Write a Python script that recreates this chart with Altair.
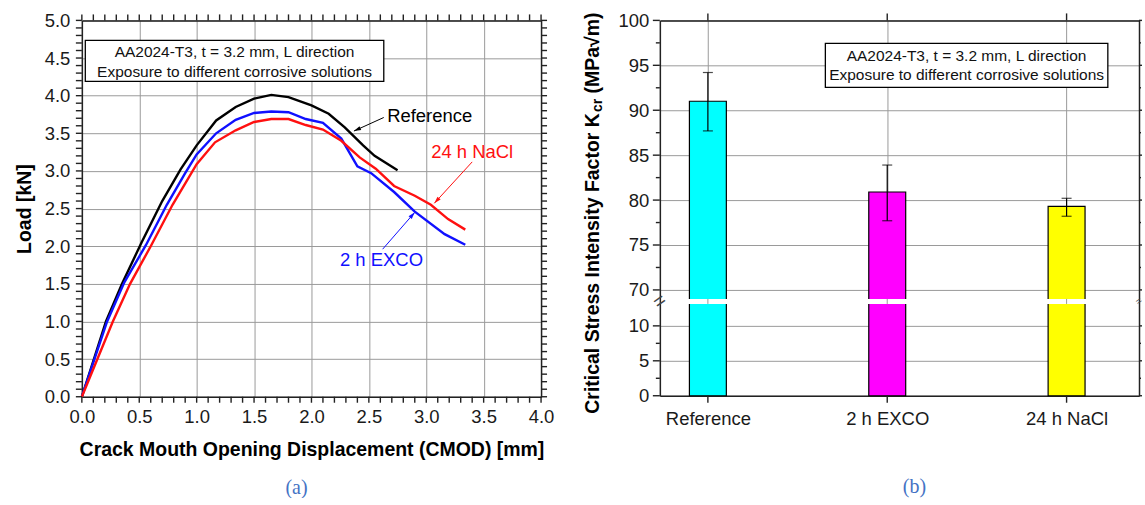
import json
import math
import altair as alt
import pandas as pd

FONT = "Liberation Sans"
SERIF = "Liberation Serif"

# ---------------- (a) load vs CMOD curves ----------------
series_names = ["Reference", "2 h EXCO", "24 h NaCl"]
series_colors = ["#000000", "#1010ff", "#ff1010"]

ref_x = [0, 0.21, 0.35, 0.52, 0.70, 0.86, 1.00, 1.17, 1.34, 1.50, 1.65, 1.80, 2.00, 2.15, 2.29, 2.45, 2.55, 2.75]
ref_y = [0, 1.00, 1.50, 2.05, 2.60, 3.02, 3.34, 3.67, 3.85, 3.96, 4.01, 3.98, 3.87, 3.76, 3.58, 3.34, 3.20, 3.01]
exco_x = [0, 0.22, 0.37, 0.56, 0.74, 0.90, 1.00, 1.17, 1.34, 1.50, 1.65, 1.80, 1.95, 2.10, 2.26, 2.40, 2.52, 2.72, 2.90, 3.16, 3.34]
exco_y = [0, 1.00, 1.52, 2.02, 2.55, 2.97, 3.22, 3.50, 3.68, 3.77, 3.79, 3.78, 3.69, 3.64, 3.43, 3.06, 2.97, 2.72, 2.46, 2.16, 2.02]
nacl_x = [0, 0.27, 0.42, 0.60, 0.79, 1.00, 1.16, 1.34, 1.50, 1.65, 1.80, 1.95, 2.10, 2.26, 2.42, 2.56, 2.72, 2.90, 3.04, 3.19, 3.34]
nacl_y = [0, 1.00, 1.50, 2.00, 2.55, 3.09, 3.38, 3.54, 3.65, 3.69, 3.69, 3.61, 3.55, 3.40, 3.18, 3.03, 2.80, 2.67, 2.55, 2.36, 2.22]

# curve labels (data coordinates)
label_text = ["Reference", "24 h NaCl", "2 h EXCO"]
label_x = [3.03, 3.40, 2.61]
label_y = [3.73, 3.25, 1.82]
label_colors = ["#000000", "#ff1010", "#1010ff"]

# leader arrows: start (near label) -> end (at curve)
arrow_x1 = [2.63, 3.40, 2.62]
arrow_y1 = [3.71, 3.12, 1.96]
arrow_x2 = [2.37, 3.07, 2.90]
arrow_y2 = [3.53, 2.57, 2.45]
arrow_colors = ["#000000", "#ff1010", "#1010ff"]

info_lines = ["AA2024-T3, t = 3.2 mm, L direction", "Exposure to different corrosive solutions"]
# annotation box of panel (a), data coordinates
box_a_x = [0.03, 2.63]
box_a_y = [4.19, 4.735]
box_a_text_y = [4.575, 4.32]

# ---------------- (b) critical stress intensity factor ----------------
cats = ["Reference", "2 h EXCO", "24 h NaCl"]
kcr = [91.0, 80.9, 79.3]
err_lo = [87.7, 77.7, 78.2]
err_hi = [94.2, 83.9, 80.2]
bar_colors = ["#00ffff", "#ff00ff", "#ffff00"]
positions = [1, 2, 3]

box_b_x = [1.655, 3.23]
box_b_y = [92.55, 97.45]
box_b_text_y = [96.0, 93.9]

ytitle_parts = ["Critical Stress Intensity Factor K", "cr", "(MPa\u221am)"]

# broken axis: lower part 0..LOW_TOP, upper part UP_BOT..100
LOW_TOP = 13.14
UP_BOT = 69.0

GRID = "#9a9a9a"
AXC = "#222222"
TKW = 1.4


def cond(test, yes, no):
    return {"condition": {"test": test, "value": yes}, "value": no}


def ticks_y(values, scale, x_from, x_to):
    return alt.Chart(pd.DataFrame({"v": values})).mark_rule(color=AXC, strokeWidth=TKW).encode(
        x=alt.value(x_from), x2=alt.value(x_to), y=alt.Y("v:Q", scale=scale, axis=None))


def ticks_x(values, scale, y_from, y_to):
    return alt.Chart(pd.DataFrame({"v": values})).mark_rule(color=AXC, strokeWidth=TKW).encode(
        y=alt.value(y_from), y2=alt.value(y_to), x=alt.X("v:Q", scale=scale, axis=None))


# ---------------- panel (a) ----------------
W_A, H_A = 460, 377
rows = []
for name, col, xs, ys in [("Reference", series_colors[0], ref_x, ref_y),
                          ("2 h EXCO", series_colors[1], exco_x, exco_y),
                          ("24 h NaCl", series_colors[2], nacl_x, nacl_y)]:
    for i, (x, y) in enumerate(zip(xs, ys)):
        rows.append({"series": name, "col": col, "cmod": x, "load": y, "i": i})
curves = pd.DataFrame(rows)

xsc = alt.Scale(domain=[0, 4], nice=False, zero=False)
ysc = alt.Scale(domain=[0, 5], nice=False, zero=False)

x_ticks = [round(i * 0.1, 1) for i in range(41)]
y_ticks = [round(i * 0.1, 1) for i in range(51)]
major_a = "abs(datum.value*2 - round(datum.value*2)) < 0.001"

ax_x_main = alt.Axis(
    values=x_ticks, title="Crack Mouth Opening Displacement (CMOD) [mm]",
    labelExpr=f"{major_a} ? format(datum.value, '.1f') : ''",
    labelOverlap=False, labelFlush=False, labelPadding=11,
    grid=True, gridColor=cond(major_a, GRID, "transparent"), gridWidth=1,
    ticks=False, domainColor=AXC, domainWidth=1.5, titlePadding=14,
)
ax_y_main = alt.Axis(
    values=y_ticks, title="Load [kN]",
    labelExpr=f"{major_a} ? format(datum.value, '.1f') : ''",
    labelOverlap=False, labelFlush=False, labelPadding=12,
    grid=True, gridColor=cond(major_a, GRID, "transparent"), gridWidth=1,
    ticks=False, domainColor=AXC, domainWidth=1.5, titlePadding=10,
)
ax_x_top = alt.Axis(orient="top", values=x_ticks, labels=False, title=None, grid=False,
                    ticks=False, domainColor=AXC, domainWidth=1.5)
ax_y_right = alt.Axis(orient="right", values=y_ticks, labels=False, title=None, grid=False,
                      ticks=False, domainColor=AXC, domainWidth=1.5)

lines = alt.Chart(curves).mark_line(strokeWidth=2.4).encode(
    x=alt.X("cmod:Q", scale=xsc, axis=ax_x_main),
    y=alt.Y("load:Q", scale=ysc, axis=ax_y_main),
    color=alt.Color("col:N", scale=None, legend=None),
    detail="series:N",
    order="i:Q",
)
mirror_a = alt.Chart(curves).mark_line(strokeOpacity=0).encode(
    x=alt.X("cmod:Q", scale=xsc, axis=ax_x_top),
    y=alt.Y("load:Q", scale=ysc, axis=ax_y_right),
    detail="series:N",
)
tk_a = [
    ticks_y(y_ticks, ysc, -6, 0),
    ticks_y(y_ticks, ysc, W_A, W_A + 6),
    ticks_x(x_ticks, xsc, H_A, H_A + 6),
    ticks_x(x_ticks, xsc, -6, 0),
]

box_a_df = pd.DataFrame({"x1": [box_a_x[0]], "x2": [box_a_x[1]], "y1": [box_a_y[0]], "y2": [box_a_y[1]]})
box_a = alt.Chart(box_a_df).mark_rect(fill="white", stroke="black", strokeWidth=1.3).encode(
    x=alt.X("x1:Q", scale=xsc, axis=None), x2="x2:Q",
    y=alt.Y("y1:Q", scale=ysc, axis=None), y2="y2:Q",
)
box_a_txt_df = pd.DataFrame({"t": info_lines, "x": [(box_a_x[0] + box_a_x[1]) / 2] * 2, "y": box_a_text_y})
box_a_txt = alt.Chart(box_a_txt_df).mark_text(font=FONT, fontSize=15.5, color="#111", align="center", baseline="middle").encode(
    x=alt.X("x:Q", scale=xsc, axis=None), y=alt.Y("y:Q", scale=ysc, axis=None), text="t:N")

PX_X = W_A / 4.0
PX_Y = H_A / 5.0
ang = []
for x1, y1, x2, y2 in zip(arrow_x1, arrow_y1, arrow_x2, arrow_y2):
    dx = (x2 - x1) * PX_X
    dy = -(y2 - y1) * PX_Y
    ang.append(math.degrees(math.atan2(dx, -dy)) % 360)
arrows_df = pd.DataFrame({"x1": arrow_x1, "y1": arrow_y1, "x2": arrow_x2, "y2": arrow_y2,
                          "col": arrow_colors, "ang": ang})
arrows = alt.Chart(arrows_df).mark_rule(strokeWidth=1).encode(
    x=alt.X("x1:Q", scale=xsc, axis=None), x2="x2:Q",
    y=alt.Y("y1:Q", scale=ysc, axis=None), y2="y2:Q",
    color=alt.Color("col:N", scale=None, legend=None),
)
heads = alt.Chart(arrows_df).mark_point(shape="M0,0L-0.3,1L0.3,1Z", filled=True, size=200, opacity=1).encode(
    x=alt.X("x2:Q", scale=xsc, axis=None),
    y=alt.Y("y2:Q", scale=ysc, axis=None),
    angle=alt.Angle("ang:Q", scale=None),
    color=alt.Color("col:N", scale=None, legend=None),
)
labels_df = pd.DataFrame({"t": label_text, "x": label_x, "y": label_y, "c": label_colors})
labels = alt.Chart(labels_df).mark_text(font=FONT, fontSize=18.5, align="center", baseline="middle").encode(
    x=alt.X("x:Q", scale=xsc, axis=None), y=alt.Y("y:Q", scale=ysc, axis=None),
    text="t:N", color=alt.Color("c:N", scale=None),
)

left = alt.layer(box_a, box_a_txt, lines, mirror_a, *tk_a, arrows, heads, labels).resolve_axis(
    x="independent", y="independent"
).properties(
    width=W_A, height=H_A,
    title=alt.TitleParams("(a)", orient="bottom", font=SERIF, fontSize=20, fontWeight="normal",
                          color="#4472c4", frame="group", anchor="middle", dx=-15, offset=19),
)

# ---------------- panel (b) ----------------
W_B, H_B = 480, 376
LOW_PX = 7.0 * LOW_TOP
UP_PX = 9.0 * (100 - UP_BOT)
ybsc = alt.Scale(domain=[0, LOW_TOP, UP_BOT, 100], range=[H_B, H_B - LOW_PX, UP_PX, 0], nice=False, zero=False)
xbsc = alt.Scale(domain=[0.76, 3.376], nice=False, zero=False)

yb_major = [0, 5, 10] + list(range(70, 101, 5))
yb_minor = [2.5, 7.5] + [72.5 + 5 * k for k in range(6)]
yb_ticks = sorted(yb_major + yb_minor)
major_b = "datum.value % 5 === 0"

ax_bx = alt.Axis(values=positions, title=None, labelExpr=f"{json.dumps(cats)}[round(datum.value)-1]",
                 labelOverlap=False, labelFlush=False, labelPadding=14, grid=True, gridColor=GRID,
                 ticks=False, domainColor=AXC, domainWidth=1.5)
ax_by = alt.Axis(values=yb_ticks, title=None, labelExpr=f"{major_b} ? format(datum.value, 'd') : ''",
                 labelOverlap=False, labelFlush=False, labelPadding=11,
                 grid=True, gridColor=cond(major_b, GRID, "transparent"),
                 ticks=False, domainColor=AXC, domainWidth=1.5)
ax_bx_top = alt.Axis(orient="top", values=positions, labels=False, title=None, grid=False,
                     ticks=False, domainColor=AXC, domainWidth=1.5)
ax_by_right = alt.Axis(orient="right", values=yb_ticks, labels=False, title=None, grid=False,
                       ticks=False, domainColor=AXC, domainWidth=1.5)

bars_df = pd.DataFrame({"pos": positions, "cat": cats, "col": bar_colors, "k": kcr, "lo": err_lo, "hi": err_hi,
                        "base": [0] * 3, "glo": [LOW_TOP] * 3, "ghi": [UP_BOT] * 3})

bars = alt.Chart(bars_df).mark_bar(size=37, stroke="black", strokeWidth=1.2).encode(
    x=alt.X("pos:Q", scale=xbsc, axis=ax_bx),
    y=alt.Y("k:Q", scale=ybsc, axis=ax_by),
    y2="base:Q",
    color=alt.Color("col:N", scale=None, legend=None),
)
mirror_b = alt.Chart(bars_df).mark_point(opacity=0).encode(
    x=alt.X("pos:Q", scale=xbsc, axis=ax_bx_top),
    y=alt.Y("k:Q", scale=ybsc, axis=ax_by_right),
)
tk_b = [
    ticks_y(yb_major, ybsc, -7, 0),
    ticks_y(yb_minor, ybsc, -4, 0),
    ticks_y(yb_major, ybsc, W_B, W_B + 3),
    ticks_y(yb_minor, ybsc, W_B, W_B + 2),
    ticks_x(positions, xbsc, H_B, H_B + 7),
    ticks_x(positions, xbsc, -7, 0),
]
gap = alt.Chart(bars_df).mark_bar(size=41, color="white").encode(
    x=alt.X("pos:Q", scale=xbsc, axis=None),
    y=alt.Y("glo:Q", scale=ybsc, axis=None), y2="ghi:Q",
)
gap_grid = alt.Chart(bars_df).mark_rule(color=GRID, strokeWidth=1).encode(
    x=alt.X("pos:Q", scale=xbsc, axis=None),
    y=alt.Y("glo:Q", scale=ybsc, axis=None), y2="ghi:Q",
)
err_rule = alt.Chart(bars_df).mark_rule(color="black", strokeWidth=1.2).encode(
    x=alt.X("pos:Q", scale=xbsc, axis=None),
    y=alt.Y("lo:Q", scale=ybsc, axis=None), y2="hi:Q",
)
err_caps = alt.Chart(bars_df).transform_fold(["lo", "hi"], as_=["which", "v"]).mark_tick(
    orient="horizontal", size=10, thickness=1.2, color="black").encode(
    x=alt.X("pos:Q", scale=xbsc, axis=None),
    y=alt.Y("v:Q", scale=ybsc, axis=None),
)
brk_df = pd.DataFrame({"v": [(LOW_TOP + UP_BOT) / 2]})
brk_left = alt.Chart(brk_df).mark_text(text="=", font=FONT, fontSize=20, angle=325, color="#444",
                                       align="center", baseline="middle").encode(
    x=alt.value(0), y=alt.Y("v:Q", scale=ybsc, axis=None))
brk_right = alt.Chart(brk_df).mark_text(text="=", font=FONT, fontSize=10, angle=325, color="#444",
                                        align="center", baseline="middle").encode(
    x=alt.value(W_B), y=alt.Y("v:Q", scale=ybsc, axis=None))

box_b_df = pd.DataFrame({"x1": [box_b_x[0]], "x2": [box_b_x[1]], "y1": [box_b_y[0]], "y2": [box_b_y[1]]})
box_b = alt.Chart(box_b_df).mark_rect(fill="white", stroke="black", strokeWidth=1.3).encode(
    x=alt.X("x1:Q", scale=xbsc, axis=None), x2="x2:Q",
    y=alt.Y("y1:Q", scale=ybsc, axis=None), y2="y2:Q",
)
box_b_txt_df = pd.DataFrame({"t": info_lines, "x": [(box_b_x[0] + box_b_x[1]) / 2] * 2, "y": box_b_text_y})
box_b_txt = alt.Chart(box_b_txt_df).mark_text(font=FONT, fontSize=15.5, color="#111", align="center", baseline="middle").encode(
    x=alt.X("x:Q", scale=xbsc, axis=None), y=alt.Y("y:Q", scale=ybsc, axis=None), text="t:N")

# y-axis title with subscript, drawn as three text pieces
TX = -67
TY0 = 394
w_main = 15.449 * 19.5
t_main = alt.Chart(pd.DataFrame({"t": [ytitle_parts[0]]})).mark_text(
    font=FONT, fontSize=19.5, fontWeight="bold", angle=270, align="left", baseline="middle", color="black"
).encode(x=alt.value(TX), y=alt.value(TY0), text="t:N")
t_sub = alt.Chart(pd.DataFrame({"t": [ytitle_parts[1]]})).mark_text(
    font=FONT, fontSize=14, fontWeight="bold", angle=270, align="left", baseline="middle", color="black"
).encode(x=alt.value(TX + 5), y=alt.value(TY0 - w_main - 1), text="t:N")
t_unit = alt.Chart(pd.DataFrame({"t": [ytitle_parts[2]]})).mark_text(
    font=FONT, fontSize=19.5, fontWeight="bold", angle=270, align="left", baseline="middle", color="black"
).encode(x=alt.value(TX), y=alt.value(TY0 - w_main - 1 - 13.5 - 5), text="t:N")

right = alt.layer(bars, mirror_b, *tk_b, gap, gap_grid, err_rule, err_caps, brk_left, brk_right,
                  box_b, box_b_txt, t_main, t_sub, t_unit).resolve_axis(
    x="independent", y="independent"
).properties(
    width=W_B, height=H_B,
    title=alt.TitleParams("(b)", orient="bottom", font=SERIF, fontSize=20, fontWeight="normal",
                          color="#4472c4", frame="group", anchor="middle", dx=15, offset=49),
)

chart = alt.hconcat(left, right, spacing=28).properties(
    padding={"left": 14, "top": 11, "right": 0, "bottom": 0},
    background="white",
).configure_view(stroke=None).configure_axis(
    labelFont=FONT, labelFontSize=18.5, labelColor="#1a1a1a",
    titleFont=FONT, titleFontSize=19.5, titleFontWeight="bold", titleColor="black",
).configure_text(font=FONT)

chart.save("out.html", embed_options={"renderer": "svg", "actions": False})
